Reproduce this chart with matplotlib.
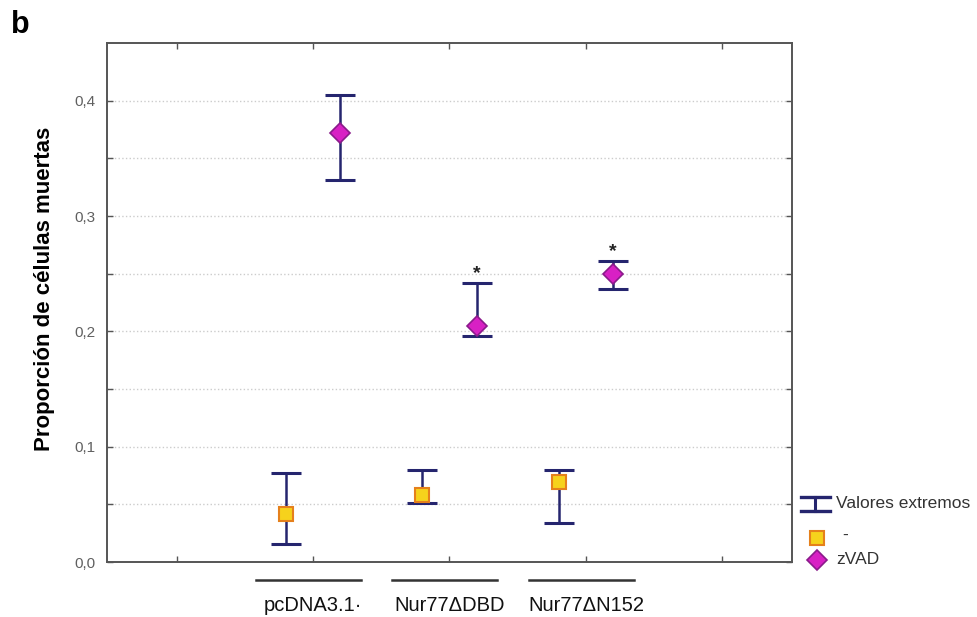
import numpy as np
import matplotlib
matplotlib.use("Agg")
import matplotlib.pyplot as plt
from matplotlib.lines import Line2D
from matplotlib.ticker import FixedLocator, FuncFormatter
import matplotlib.transforms as mtransforms

plt.rcParams['font.family'] = ['Liberation Sans', 'DejaVu Sans']

# ---------------------------------------------------------------
# data
# ---------------------------------------------------------------
groups = ['pcDNA3.1·', 'Nur77ΔDBD', 'Nur77ΔN152']
group_pos = [2, 3, 4]

ctrl_mean = [0.042, 0.058, 0.069]
ctrl_low = [0.016, 0.051, 0.034]
ctrl_high = [0.077, 0.080, 0.080]

zvad_mean = [0.372, 0.205, 0.250]
zvad_low = [0.331, 0.196, 0.237]
zvad_high = [0.405, 0.242, 0.261]

stars = [False, True, True]

# ---------------------------------------------------------------
# styling
# ---------------------------------------------------------------
bar_col = '#25256e'
sq_face, sq_edge = '#f6d21c', '#e5801c'
di_face, di_edge = '#d820c4', '#8b1a8b'
off = 0.2
W, H = 978, 617

fig = plt.figure(figsize=(W / 100, H / 100), dpi=100)
ax = fig.add_axes([0.1094, 0.0891, 0.7004, 0.8412])

x_ctrl = np.array(group_pos) - off
x_zvad = np.array(group_pos) + off

def draw_err(x, mean, low, high):
    mean = np.array(mean)
    yerr = [mean - np.array(low), np.array(high) - mean]
    ax.errorbar(x, mean, yerr=yerr, fmt='none', ecolor=bar_col,
                elinewidth=1.8, capsize=11, capthick=2.2, zorder=3)

draw_err(x_ctrl, ctrl_mean, ctrl_low, ctrl_high)
draw_err(x_zvad, zvad_mean, zvad_low, zvad_high)

ax.plot(x_ctrl, ctrl_mean, 's', ms=10, mfc=sq_face, mec=sq_edge,
        mew=1.5, ls='none', zorder=4)
ax.plot(x_zvad, zvad_mean, 'D', ms=10, mfc=di_face, mec=di_edge,
        mew=1.2, ls='none', zorder=4)

for xi, top, s in zip(x_zvad, zvad_high, stars):
    if s:
        ax.text(xi, top + 0.001, '*', ha='center', va='bottom',
                fontsize=14, fontweight='bold', color='#222222')

# axes limits and ticks
ax.set_xlim(0.49, 5.51)
ax.set_ylim(0, 0.45)
ax.xaxis.set_major_locator(FixedLocator([1, 2, 3, 4, 5]))
ax.set_xticklabels([])
ax.yaxis.set_major_locator(FixedLocator([0, 0.1, 0.2, 0.3, 0.4]))
ax.yaxis.set_minor_locator(FixedLocator([0.05, 0.15, 0.25, 0.35]))
ax.yaxis.set_major_formatter(FuncFormatter(lambda v, p: f'{v:.1f}'.replace('.', ',')))
ax.tick_params(axis='both', which='both', direction='in', length=4,
               width=1, color='#555555', top=True, right=True)
ax.tick_params(axis='y', labelsize=11, labelcolor='#606060', pad=8)

for v in np.arange(0.05, 0.45, 0.05):
    ax.axhline(v, color='#cccccc', lw=1, ls=':', zorder=1)

for sp in ax.spines.values():
    sp.set_color('#555555')
    sp.set_linewidth(1.4)

# group labels with underline bars
trans = mtransforms.blended_transform_factory(ax.transData, ax.transAxes)
for g, p in zip(groups, group_pos):
    ax.plot([p - 0.42, p + 0.35], [-0.034, -0.034], color='#333333', lw=1.8,
            transform=trans, clip_on=False)
    ax.text(p, -0.083, g, ha='center', va='center', fontsize=14.5,
            transform=trans, color='#111111')

fig.text(45 / W, 1 - 289 / H, 'Proporción de células muertas',
         rotation=90, ha='center', va='center', fontsize=16, fontweight='bold')
fig.text(11 / W, 1 - 25 / H, 'b', ha='left', va='center',
         fontsize=22, fontweight='bold')

# legend drawn by hand outside the axes (figure pixel coords)
def fx(px):
    return px / W

def fy(py):
    return 1 - py / H

for y0 in (497, 511):
    fig.add_artist(Line2D([fx(801), fx(830)], [fy(y0), fy(y0)], color=bar_col,
                          lw=2.4, transform=fig.transFigure))
fig.add_artist(Line2D([fx(815), fx(815)], [fy(497), fy(511)], color=bar_col,
                      lw=2.2, transform=fig.transFigure))
fig.text(fx(836), fy(504), 'Valores extremos', ha='left', va='center',
         fontsize=12.5, color='#333333')

fig.add_artist(Line2D([fx(817)], [fy(538)], marker='s', ms=10, mfc=sq_face,
                      mec=sq_edge, mew=1.5, ls='none', transform=fig.transFigure))
fig.text(fx(842), fy(535), '-', ha='left', va='center', fontsize=12.5, color='#333333')
fig.add_artist(Line2D([fx(817)], [fy(560)], marker='D', ms=10, mfc=di_face,
                      mec=di_edge, mew=1.2, ls='none', transform=fig.transFigure))
fig.text(fx(836), fy(560), 'zVAD', ha='left', va='center', fontsize=12.5, color='#333333')

fig.savefig('out.png', dpi=100)
